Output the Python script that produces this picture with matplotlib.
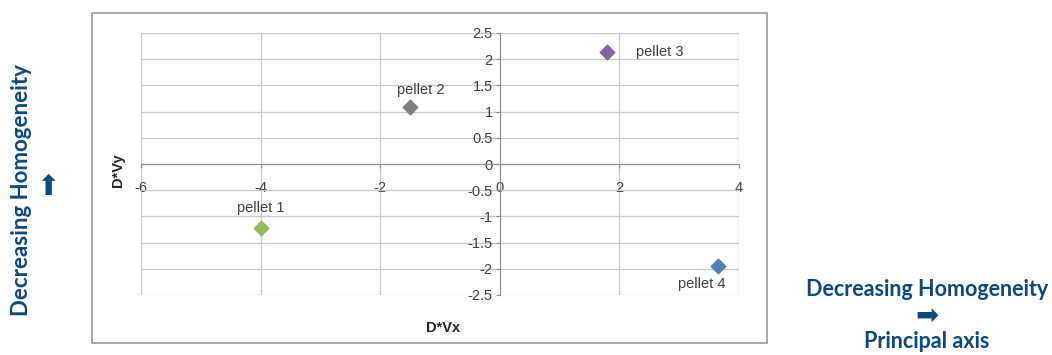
import matplotlib
matplotlib.use("Agg")
import matplotlib.pyplot as plt
from matplotlib.patches import Rectangle

names = ["pellet 1", "pellet 2", "pellet 3", "pellet 4"]
dvx = [-4.0, -1.5, 1.8, 3.65]
dvy = [-1.22, 1.09, 2.14, -1.95]
colors = ["#9BBB59", "#7F7F7F", "#8064A2", "#4F81BD"]
label_offsets = [(0, 14), (8, 12), (38, 0), (-12, -13)]
x_ticks = [-6, -4, -2, 0, 2, 4]
y_ticks = [-2.5, -2, -1.5, -1, -0.5, 0, 0.5, 1, 1.5, 2, 2.5]

plt.rcParams['font.family'] = ['Liberation Sans Narrow', 'Liberation Sans', 'DejaVu Sans']
navy = "#0B4A80"

fig = plt.figure(figsize=(10.52, 3.55), dpi=100)
# chart frame
fig.patches.append(Rectangle((92/1052, 1-343/355), (767-92)/1052, (343-13)/355,
                             transform=fig.transFigure, fill=False,
                             edgecolor="#9a9a9a", linewidth=1.2))
ax = fig.add_axes([141/1052, 1-295/355, (739-141)/1052, (295-33)/355])
ax.set_xlim(-6, 4)
ax.set_ylim(-2.5, 2.5)
ax.set_xticks(x_ticks)
ax.set_yticks(y_ticks)
ax.set_xticklabels([f"{t:g}" for t in x_ticks])
ax.set_yticklabels([f"{t:g}" for t in y_ticks])
ax.grid(True, color="#c8c8c8", linewidth=0.9)
ax.set_axisbelow(True)
for s in ["top", "right"]:
    ax.spines[s].set_visible(False)
ax.spines["left"].set_position(("data", 0))
ax.spines["bottom"].set_position(("data", 0))
for s in ["left", "bottom"]:
    ax.spines[s].set_color("#8c8c8c")
ax.tick_params(axis="both", length=3, color="#8c8c8c", labelsize=10.5,
               labelcolor="#404040", pad=2)
ax.tick_params(axis="x", pad=9)

for n, x, y, c, off in zip(names, dvx, dvy, colors, label_offsets):
    ax.scatter([x], [y], marker="D", s=55, color=c, zorder=3)
    ax.annotate(n, (x, y), xytext=off, textcoords="offset points",
                ha="center", va="center", fontsize=10.5, color="#404040")

fig.text(118/1052, 1-170/355, "D*Vy", rotation=90, ha="center", va="center",
         fontsize=10.5, fontweight="bold", color="#262626")
fig.text(443/1052, 1-328/355, "D*Vx", ha="center", va="center",
         fontsize=10.5, fontweight="bold", color="#262626")

fig.text(22/1052, 1-190/355, "Decreasing Homogeneity", rotation=90, ha="center",
         va="center", fontsize=16, fontweight="bold", color=navy, family="Lato")
fig.text(48/1052, 1-187/355, "\u2B06", ha="center", va="center", fontsize=20,
         color=navy, family="DejaVu Sans")
fig.text(927/1052, 1-290/355, "Decreasing Homogeneity", ha="center", va="center",
         fontsize=15.5, fontweight="bold", color=navy, family="Lato")
fig.text(927/1052, 1-316/355, "\u27A1", ha="center", va="center", fontsize=20,
         color=navy, family="DejaVu Sans")
fig.text(927/1052, 1-342/355, "Principal axis", ha="center", va="center",
         fontsize=15.5, fontweight="bold", color=navy, family="Lato")

fig.savefig("out.png", dpi=100)
